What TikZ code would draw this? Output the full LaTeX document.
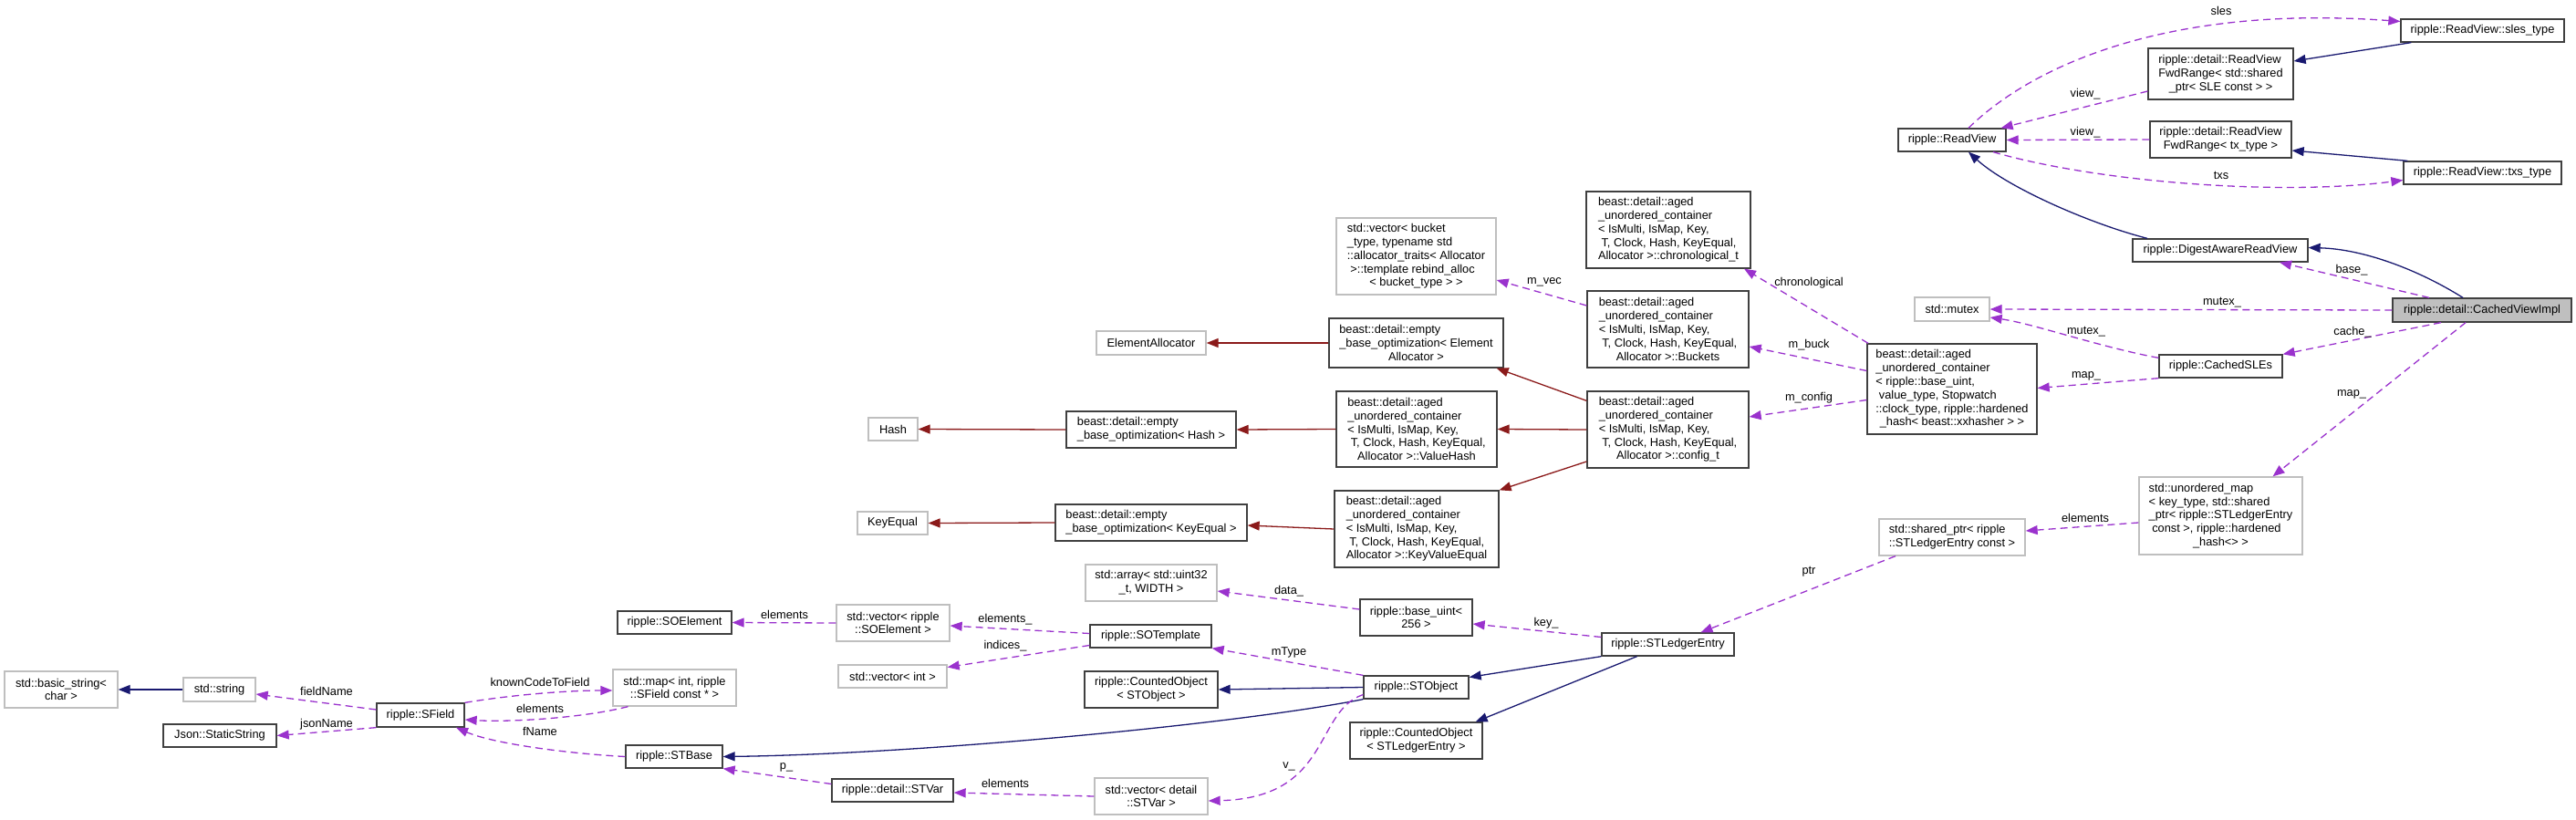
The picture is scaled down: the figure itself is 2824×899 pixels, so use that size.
\documentclass[tikz,border=0pt]{standalone}
\usepackage{fontspec}
\setmainfont{Liberation Sans}
\usepackage{xcolor}
\usepackage{tikz}
\usetikzlibrary{arrows.meta}
\definecolor{inhblue}{HTML}{191970}
\definecolor{privred}{HTML}{8B1A1A}
\definecolor{usepurple}{HTML}{9A32CD}
\definecolor{boxgray}{HTML}{BFBFBF}
\definecolor{boxedge}{HTML}{404040}
\newcommand{\lastln}{\hspace*{0pt plus 1fil}}
\newcommand{\agedprefix}{beast::detail::aged\\\_unordered\_container\\< IsMulti, IsMap, Key,\\\ T, Clock, Hash, KeyEqual,\\}
\tikzset{
  classnode/.style={draw=boxedge,line width=1.3pt,fill=white,inner sep=0pt,align=left},
  extnode/.style={classnode,draw=boxgray},
  mainnode/.style={classnode,fill=boxgray},
  boxsz/.style 2 args={minimum width=#1pt,minimum height=#2pt},
  inherit/.style={-{Triangle[length=13pt,width=10pt]},draw=inhblue,line width=1.3pt},
  privinherit/.style={inherit,draw=privred},
  usage/.style={inherit,draw=usepurple,dash pattern=on 8pt off 5pt},
  edgelabel/.style={inner sep=0pt},
}

\begin{document}
\begin{tikzpicture}[x=1pt,y=-1pt,font=\fontsize{12.8}{14.8}\selectfont]
  \useasboundingbox (0,0) rectangle (2824,899);
  % left part
  \node[extnode,boxsz={124}{40}] (basicstr) at (67,756) {std::basic\_string<\\\lastln char >};
  \node[extnode,boxsz={79}{26}] (stdstr) at (240.5,756) {std::string};
  \node[classnode,boxsz={124}{25}] (json) at (241,806.5) {Json::StaticString};
  \node[classnode,boxsz={96}{26}] (sfield) at (461,784) {ripple::SField};
  \node[classnode,boxsz={125}{25}] (soelem) at (739.5,682.5) {ripple::SOElement};
  \node[extnode,boxsz={135}{40}] (stdmap) at (739.5,754) {std::map< int, ripple\\\lastln ::SField const * >};
  \node[classnode,boxsz={106}{25}] (stbase) at (739,829.5) {ripple::STBase};
  \node[classnode,boxsz={133}{25}] (stvar) at (978.5,866.5) {ripple::detail::STVar};
  \node[extnode,boxsz={77}{25}] (keyeq) at (978.5,573.5) {KeyEqual};
  \node[extnode,boxsz={54}{25}] (hash) at (979,470.5) {Hash};
  \node[extnode,boxsz={124}{40}] (vecsoel) at (979,683) {std::vector< ripple\\\lastln ::SOElement >};
  \node[extnode,boxsz={119}{25}] (vecint) at (978.5,741.5) {std::vector< int >};
  % middle part
  \node[extnode,boxsz={120}{26}] (ealloc) at (1262,376) {ElementAllocator};
  \node[classnode,boxsz={186}{40}] (ebohash) at (1262,471) {beast::detail::empty\\\_base\_optimization< Hash >};
  \node[classnode,boxsz={210}{40}] (ebokeq) at (1262,573) {beast::detail::empty\\\_base\_optimization< KeyEqual >};
  \node[extnode,boxsz={144}{40}] (stdarray) at (1262,639) {std::array< std::uint32\\\lastln \_t, WIDTH >};
  \node[classnode,boxsz={133}{25}] (sotempl) at (1261.5,697.5) {ripple::SOTemplate};
  \node[classnode,boxsz={146}{40}] (cntobj) at (1262,756) {ripple::CountedObject\\\lastln < STObject >};
  \node[extnode,boxsz={124}{40}] (vecstvar) at (1262,873) {std::vector< detail\\\lastln ::STVar >};
  \node[extnode,boxsz={175}{84}] (vecbuck) at (1552.5,281) {std::vector< bucket\\\_type, typename std\\::allocator\_traits< Allocator\\\ >::template rebind\_alloc\\\lastln < bucket\_type > >};
  \node[classnode,boxsz={191}{54}] (eboealloc) at (1552.5,376) {beast::detail::empty\\\_base\_optimization< Element\\\lastln Allocator >};
  \node[classnode,boxsz={176}{83}] (valhash) at (1553,470.5) {\agedprefix\lastln Allocator >::ValueHash};
  \node[classnode,boxsz={180}{84}] (kvequal) at (1553,580) {\agedprefix\lastln Allocator >::KeyValueEqual};
  \node[classnode,boxsz={123}{40}] (baseuint) at (1552.5,677) {ripple::base\_uint<\\\lastln 256 >};
  \node[classnode,boxsz={115}{25}] (stobj) at (1552.5,753.5) {ripple::STObject};
  \node[classnode,boxsz={145}{40}] (cntsle) at (1552.5,812) {ripple::CountedObject\\\lastln < STLedgerEntry >};
  \node[classnode,boxsz={180}{84}] (chrono) at (1829,252) {\agedprefix\lastln Allocator >::chronological\_t};
  \node[classnode,boxsz={177}{84}] (buckets) at (1828.5,361) {\agedprefix\lastln Allocator >::Buckets};
  \node[classnode,boxsz={177}{84}] (config) at (1828.5,471) {\agedprefix\lastln Allocator >::config\_t};
  \node[classnode,boxsz={145}{25}] (stle) at (1828.5,706.5) {ripple::STLedgerEntry};
  % right part
  \node[classnode,boxsz={118}{25}] (readview) at (2140,153.5) {ripple::ReadView};
  \node[extnode,boxsz={82}{26}] (mutex) at (2140,339) {std::mutex};
  \node[classnode,boxsz={186}{99}] (agedmap) at (2140,426.5) {beast::detail::aged\\\_unordered\_container\\< ripple::base\_uint,\\\ value\_type, Stopwatch\\::clock\_type, ripple::hardened\\\lastln \_hash< beast::xxhasher > >};
  \node[extnode,boxsz={160}{40}] (sharedptr) at (2140,589) {std::shared\_ptr< ripple\\\lastln ::STLedgerEntry const >};
  \node[classnode,boxsz={159}{56}] (fwdsle) at (2434.5,81) {ripple::detail::ReadView\\FwdRange< std::shared\\\lastln \_ptr< SLE const > >};
  \node[classnode,boxsz={155}{40}] (fwdtx) at (2434.5,153) {ripple::detail::ReadView\\\lastln FwdRange< tx\_type >};
  \node[classnode,boxsz={192}{25}] (digest) at (2434,274.5) {ripple::DigestAwareReadView};
  \node[classnode,boxsz={135}{25}] (cachedsles) at (2434.5,401.5) {ripple::CachedSLEs};
  \node[extnode,boxsz={179}{85}] (umap) at (2434.5,565.5) {std::unordered\_map\\< key\_type, std::shared\\\_ptr< ripple::STLedgerEntry\\\ const >, ripple::hardened\\\lastln \_hash<> >};
  \node[classnode,boxsz={179}{25}] (slestype) at (2721.5,33.5) {ripple::ReadView::sles\_type};
  \node[classnode,boxsz={173}{25}] (txstype) at (2721.5,189.5) {ripple::ReadView::txs\_type};
  \node[mainnode,boxsz={196}{26}] (cvimpl) at (2721,340) {ripple::detail::CachedViewImpl};

  % inheritance
  \draw[inherit] (stdstr.west) -- (basicstr.east);
  \draw[inherit] (stobj.west) -- (cntobj.east);
  \draw[inherit] (stobj.south west) .. controls (1350,795) and (1000,827) .. (stbase.east);
  \draw[inherit] (stle.south west) -- ([yshift=11pt]stobj.east);
  \draw[inherit] ([xshift=-34pt]stle.south) -- ([xshift=-8pt]cntsle.north east);
  \draw[inherit] ([xshift=-21pt]cvimpl.north) .. controls (2650,295) and (2590,273) .. ([yshift=3pt]digest.east);
  \draw[inherit] ([xshift=-80pt]digest.north) .. controls (2290,245) and (2200,205) .. ([xshift=18pt]readview.south);
  \draw[inherit] ([xshift=12pt]slestype.south west) -- ([yshift=14pt]fwdsle.east);
  \draw[inherit] ([xshift=5pt]txstype.north west) -- ([yshift=-12pt]fwdtx.east);

  % private inheritance
  \draw[privinherit] ([yshift=-11pt]config.north west) -- ([xshift=-8pt]eboealloc.south east);
  \draw[privinherit] (config.west) -- (valhash.east);
  \draw[privinherit] ([yshift=-35pt]config.west) -- (kvequal.north east);
  \draw[privinherit] (eboealloc.west) -- (ealloc.east);
  \draw[privinherit] (valhash.west) -- (ebohash.east);
  \draw[privinherit] (ebohash.west) -- (hash.east);
  \draw[privinherit] (kvequal.west) -- ([yshift=-3pt]ebokeq.east);
  \draw[privinherit] (ebokeq.west) -- (keyeq.east);

  % usage
  \draw[usage] ([xshift=-58pt]cvimpl.north) -- ([xshift=65pt]digest.south) node[edgelabel] at (2578,296) {base\_};
  \draw[usage] (cvimpl.west) -- (mutex.east) node[edgelabel] at (2436,332) {mutex\_};
  \draw[usage] ([xshift=-45pt]cvimpl.south) -- (cachedsles.north east) node[edgelabel] at (2579,364) {cache\_};
  \draw[usage] ([xshift=-18pt]cvimpl.south) -- ([xshift=57pt]umap.north) node[edgelabel] at (2578,432) {map\_};
  \draw[usage] ([yshift=-4pt]cachedsles.north west) .. controls (2300,380) and (2230,355) .. ([yshift=-9pt]mutex.east) node[edgelabel] at (2287,364) {mutex\_};
  \draw[usage] (cachedsles.south west) -- ([yshift=1pt]agedmap.east) node[edgelabel] at (2287,412) {map\_};
  \draw[usage] ([xshift=-92pt]agedmap.north) -- ([xshift=83pt]chrono.south) node[edgelabel] at (1983,310) {chronological};
  \draw[usage] ([yshift=20pt]agedmap.west) -- ([yshift=-19pt]buckets.east) node[edgelabel] at (1983,378) {m\_buck};
  \draw[usage] ([yshift=-12pt]agedmap.west) -- ([yshift=14pt]config.east) node[edgelabel] at (1983,436) {m\_config};
  \draw[usage] ([yshift=26pt]buckets.west) -- ([yshift=-26pt]vecbuck.east) node[edgelabel] at (1693,309) {m\_vec};
  \draw[usage] ([yshift=-7.5pt]umap.west) -- ([yshift=7pt]sharedptr.east) node[edgelabel] at (2286,568) {elements};
  \draw[usage] ([xshift=-62pt]sharedptr.south) -- ([xshift=36pt]stle.north) node[edgelabel] at (1983,627) {ptr};
  \draw[usage] ([yshift=8pt]stle.west) -- ([yshift=-7pt]baseuint.east) node[edgelabel] at (1695,683) {key\_};
  \draw[usage] ([yshift=9pt]baseuint.west) -- ([yshift=-9pt]stdarray.east) node[edgelabel] at (1413,648) {data\_};
  \draw[usage] (stobj.north west) -- (sotempl.south east) node[edgelabel] at (1413,715) {mType};
  \draw[usage] ([yshift=3pt]sotempl.west) -- ([yshift=-3pt]vecsoel.east) node[edgelabel] at (1102,679) {elements\_};
  \draw[usage] ([yshift=-10pt]sotempl.west) -- ([yshift=10pt]vecint.east) node[edgelabel] at (1102,708) {indices\_};
  \draw[usage] (vecsoel.west) -- (soelem.east) node[edgelabel] at (860,674) {elements};
  \draw[usage] ([yshift=-8pt]stobj.west) .. controls (1440,780) and (1460,875) .. ([yshift=-5pt]vecstvar.east) node[edgelabel] at (1413,840) {v\_};
  \draw[usage] (vecstvar.west) -- ([yshift=-2.5pt]stvar.east) node[edgelabel] at (1102,859) {elements};
  \draw[usage] ([yshift=7pt]stvar.west) -- (stbase.south east) node[edgelabel] at (862,841) {p\_};
  \draw[usage] (stbase.west) .. controls (620,826) and (540,815) .. ([xshift=39pt]sfield.south) node[edgelabel] at (592,802) {fName};
  \draw[usage] (sfield.north east) .. controls (560,762) and (620,757) .. ([yshift=-3pt]stdmap.west) node[edgelabel] at (592,748) {knownCodeToField};
  \draw[usage] ([xshift=-51pt]stdmap.south) .. controls (640,787) and (560,792) .. ([yshift=-5pt]sfield.east) node[edgelabel] at (592,777) {elements};
  \draw[usage] ([yshift=6pt]sfield.west) -- ([yshift=-5pt]stdstr.east) node[edgelabel] at (358,758) {fieldName};
  \draw[usage] (sfield.south west) -- (json.east) node[edgelabel] at (358,794) {jsonName};
  \draw[usage] ([yshift=-19pt]fwdsle.west) -- ([xshift=-6pt]readview.north east) node[edgelabel] at (2286,103) {view\_};
  \draw[usage] (fwdtx.west) -- (readview.east) node[edgelabel] at (2286,145) {view\_};
  \draw[usage] ([xshift=18pt]readview.north) .. controls (2230,70) and (2380,5) .. ([yshift=10pt]slestype.west) node[edgelabel] at (2435,12) {sles};
  \draw[usage] ([xshift=45pt]readview.south) .. controls (2300,200) and (2500,215) .. ([yshift=-8pt]txstype.west) node[edgelabel] at (2435,192) {txs};
\end{tikzpicture}
\end{document}
